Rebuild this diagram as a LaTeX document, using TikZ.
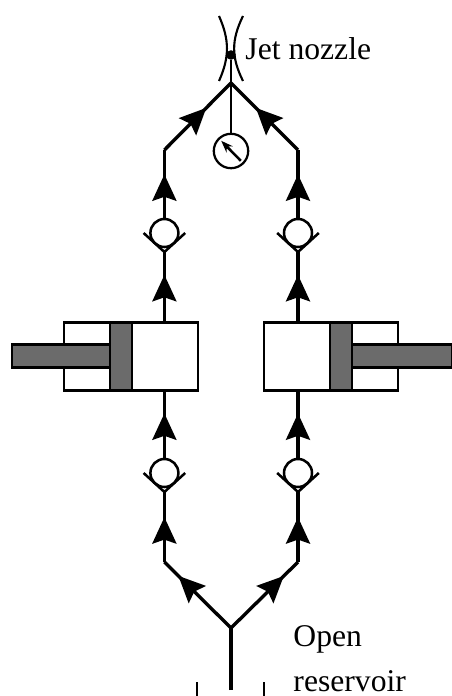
\documentclass[tikz,border=0pt]{standalone}
\usepackage{fontspec}
\setmainfont{Liberation Serif}
\usetikzlibrary{arrows.meta,calc,decorations.markings}
\definecolor{pistongray}{gray}{0.42}
\tikzset{
	pipe/.style={line width=2.4pt},
	flow/.style={decoration={markings,mark=at position #1 with {\arrow{Stealth[length=0.66cm,width=0.6cm,inset=0.1cm]}}},postaction=decorate},
	valve/.style={circle,draw,line width=1.8pt,fill=white,minimum size=0.7cm,inner sep=0pt},
	cup/.style={line width=1.8pt},
	barrel/.style={draw,line width=1.8pt,fill=white,minimum width=3.35cm,minimum height=1.69cm,inner sep=0pt},
	steel/.style={draw,line width=1.9pt,fill=pistongray},
	caption/.style={font=\fontsize{22.5}{27}\selectfont,inner sep=0pt,anchor=base west}
}
\begin{document}
\begin{tikzpicture}[scale=1]
	\useasboundingbox (0,0) rectangle (11.275,17.4);
	% cylinders
	\node[barrel] (cylL) at (3.275,8.4875) {};
	\node[barrel] (cylR) at (8.275,8.4875) {};
	\draw[steel] (0.3,8.21) rectangle (2.75,8.79);
	\draw[steel] (2.75,7.645) rectangle (3.3,9.33);
	\draw[steel] (8.8,8.21) rectangle (11.3,8.79);
	\draw[steel] (8.25,7.645) rectangle (8.8,9.33);
	% check valves
	\foreach \name/\xx/\yy in {vUL/4.11/11.575,vUR/7.45/11.575,vDL/4.11/5.575,vDR/7.45/5.575}{
		\node[valve] (\name) at (\xx,\yy) {};
		\draw[cup] ($(\name)+(-0.52,0)$) -- ($(\name)+(0,-0.475)$) coordinate (\name b) -- ($(\name)+(0.52,0)$);
	}
	% joints
	\coordinate (top) at (5.775,15.325);
	\coordinate (bot) at (5.775,1.7);
	\coordinate (tail) at (5.775,0.15);
	\coordinate (kTL) at (4.11,13.65);
	\coordinate (kTR) at (7.45,13.65);
	\coordinate (kBL) at (4.11,3.35);
	\coordinate (kBR) at (7.45,3.35);
	\node[circle,fill,inner sep=0pt,minimum size=0.24cm] (jet) at (5.775,16.025) {};
	\node[circle,draw,line width=1.6pt,minimum size=0.86cm,inner sep=0pt] (gauge) at (5.775,13.625) {};
	% pipes
	\draw[pipe,flow=0.64] (vUL.north) -- (kTL);
	\draw[pipe,flow=0.64] (vUR.north) -- (kTR);
	\draw[pipe,flow=0.63] (kTL) -- (top);
	\draw[pipe,flow=0.63] (kTR) -- (top);
	\draw[pipe,flow=0.67] (cylL.north -| vUL) -- (vULb);
	\draw[pipe,flow=0.67] (cylR.north -| vUR) -- (vURb);
	\draw[pipe,flow=0.67] (vDL.north) -- (cylL.south -| vDL);
	\draw[pipe,flow=0.67] (vDR.north) -- (cylR.south -| vDR);
	\draw[pipe,flow=0.64] (kBL) -- (vDLb);
	\draw[pipe,flow=0.64] (kBR) -- (vDRb);
	\draw[pipe,flow=0.79] (bot) -- (kBL);
	\draw[pipe,flow=0.79] (bot) -- (kBR);
	\draw[pipe] (tail) -- (bot);
	\draw[line width=2pt] (jet) -- (top);
	\draw[line width=1.1pt] (top) -- (gauge);
	\draw[line width=1.8pt,-{Stealth[length=0.3cm,width=0.22cm]}] (6.02,13.38) -- (5.53,13.88);
	% nozzle
	\draw[line width=1.5pt] (5.475,17) .. controls (5.74,16.4) and (5.74,15.97) .. (5.475,15.375);
	\draw[line width=1.5pt] (6.075,17) .. controls (5.78,16.4) and (5.78,15.97) .. (6.075,15.375);
	% reservoir
	\draw[line width=1pt] (4.925,0) -- (4.925,0.35);
	\draw[line width=1pt] (6.6,0) -- (6.6,0.35);
	% texts
	\node[caption] (nozzle) at (6.13,15.9) {Jet nozzle};
	\node[caption] (open) at (7.33,1.225) {Open};
	\node[caption] (res) at (7.33,0.11) {reservoir};
\end{tikzpicture}
\end{document}
